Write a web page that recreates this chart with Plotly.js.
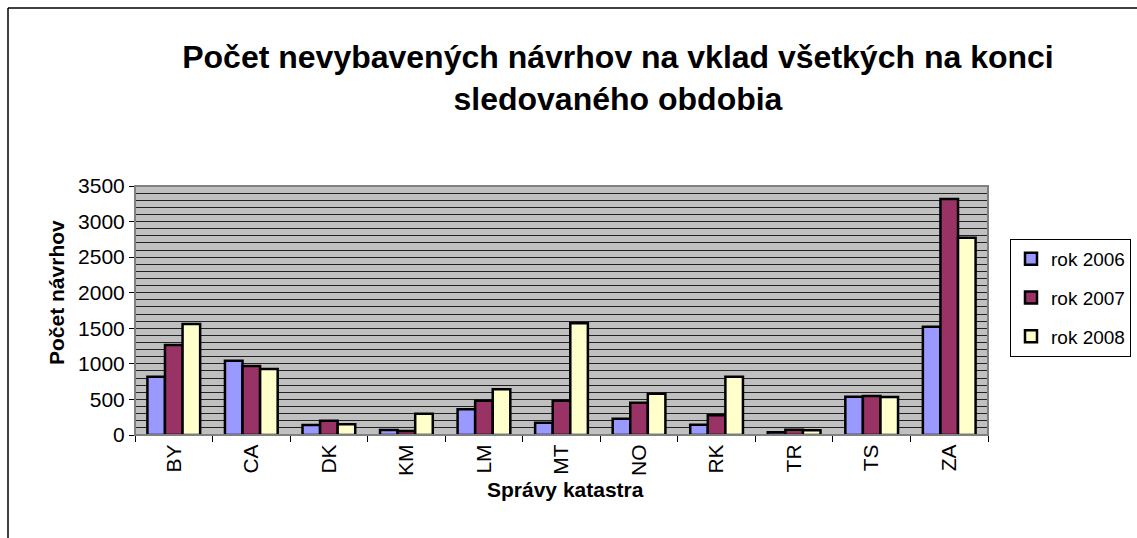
<!DOCTYPE html>
<html>
<head>
<meta charset="utf-8">
<script src="https://cdn.plot.ly/plotly-3.0.1.min.js"></script>
<style>
html,body{margin:0;padding:0;background:#fff;}
#chart{width:1137px;height:538px;}
</style>
</head>
<body>
<div id="chart"></div>
<script>
const categories = ["BY","CA","DK","KM","LM","MT","NO","RK","TR","TS","ZA"];
const rok2006 = [820, 1045, 141, 70, 361, 173, 230, 145, 37, 539, 1523];
const rok2007 = [1265, 970, 201, 56, 483, 483, 455, 277, 75, 548, 3318];
const rok2008 = [1560, 928, 150, 300, 642, 1570, 581, 820, 66, 534, 2774];
const seriesNames = ["rok 2006","rok 2007","rok 2008"];
const seriesColors = ["#9999FF","#993366","#FFFFCC"];
const yTitle = "Počet návrhov";
const xTitle = "Správy katastra";
const chartTitle = "Počet nevybavených návrhov na vklad všetkých na konci<br>sledovaného obdobia";

const W = 1137, H = 538;
const M = {l:135, r:149, t:186, b:103, autoexpand: false};
const pw = W - M.l - M.r, ph = H - M.t - M.b;
function px(x){ return (x - M.l)/pw; }
function py(y){ return (H - M.b - y)/ph; }

const FONT = "Liberation Sans, Arial, sans-serif";
const data = [rok2006, rok2007, rok2008].map((vals, i) => ({
  type: "bar",
  name: seriesNames[i],
  x: categories,
  y: vals,
  legendgroup: "g" + i,
  marker: {color: seriesColors[i], line: {color: "#000", width: 2.5}},
  hoverinfo: "x+y+name"
}));

const layout = {
  width: W, height: H,
  margin: M,
  paper_bgcolor: "#fff",
  plot_bgcolor: "#C0C0C0",
  font: {family: FONT, color: "#000", size: 20},
  title: {
    text: "<b>" + chartTitle + "</b>",
    font: {family: FONT, size: 32, color: "#000"},
    x: 0.5435, xref: "container", xanchor: "center",
    y: 1 - 68/538, yref: "container", yanchor: "top"
  },
  barmode: "group",
  bargap: 0.32,
  bargroupgap: 0,
  showlegend: true,
  legend: {
    x: px(1010), y: py(239), xanchor: "left", yanchor: "top",
    bgcolor: "#fff", bordercolor: "#000", borderwidth: 1,
    font: {family: FONT, size: 19, color: "#000"},
    tracegroupgap: 11, itemwidth: 30
  },
  xaxis: {
    type: "category",
    tickangle: -90,
    ticks: "outside", ticklen: 6, tickcolor: "#000", tickson: "boundaries",
    showline: true, linecolor: "#000", linewidth: 1,
    tickfont: {family: FONT, size: 21, color: "#000"},
    showgrid: false, zeroline: false,
    fixedrange: true
  },
  yaxis: {
    range: [0, 3500],
    dtick: 500,
    ticks: "outside", ticklen: 5, tickcolor: "#000",
    showline: true, linecolor: "#000", linewidth: 1,
    tickfont: {family: FONT, size: 21, color: "#000"},
    showgrid: true, gridcolor: "#222", gridwidth: 1,
    minor: {dtick: 100, showgrid: true, gridcolor: "#222", gridwidth: 1},
    zeroline: false,
    fixedrange: true
  },
  annotations: [{
    text: "<b>" + xTitle + "</b>",
    xref: "paper", yref: "paper",
    x: px(565), y: py(489), xanchor: "center", yanchor: "middle",
    showarrow: false,
    font: {family: FONT, size: 21, color: "#000"}
  }, {
    text: "<b>" + yTitle + "</b>",
    xref: "paper", yref: "paper",
    x: px(56), y: py(293), xanchor: "center", yanchor: "middle",
    textangle: -90,
    showarrow: false,
    font: {family: FONT, size: 21, color: "#000"}
  }],
  shapes: [
    {type: "rect", xref: "paper", yref: "paper", x0: 0, x1: 1, y0: 0, y1: 1,
     line: {color: "#808080", width: 2}, fillcolor: "rgba(0,0,0,0)", layer: "above"},
    {type: "line", xref: "paper", yref: "paper", x0: px(8), x1: px(1140), y0: py(8), y1: py(8),
     line: {color: "#000", width: 1.5}},
    {type: "line", xref: "paper", yref: "paper", x0: px(8), x1: px(8), y0: py(8), y1: py(545),
     line: {color: "#000", width: 1.5}}
  ]
};

Plotly.newPlot("chart", data, layout, {displayModeBar: false, staticPlot: true});
</script>
</body>
</html>
